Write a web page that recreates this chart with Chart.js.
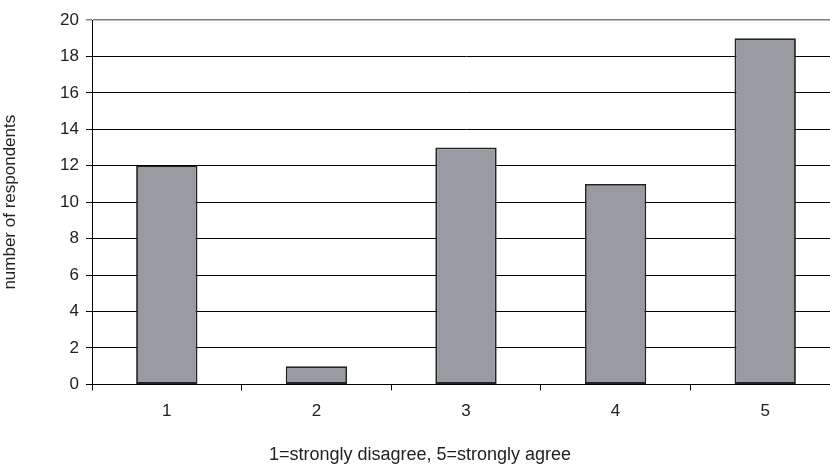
<!DOCTYPE html>
<html>
<head>
<meta charset="utf-8">
<script src="https://cdn.jsdelivr.net/npm/chart.js@4"></script>
<style>
  html, body { margin: 0; padding: 0; background: #fff; overflow: hidden; }
  #wrap { width: 844px; height: 468px; }
</style>
</head>
<body>
<div id="wrap"><canvas id="chart" width="844" height="468"></canvas></div>
<script>
// Agreement scale (1 = strongly disagree, 5 = strongly agree)
const categories = ['1', '2', '3', '4', '5'];
const respondents = [12, 1, 13, 11, 19];
const yTicks = [0, 2, 4, 6, 8, 10, 12, 14, 16, 18, 20];

const FONT = 'Liberation Sans, Arial, sans-serif';

new Chart(document.getElementById('chart'), {
  type: 'bar',
  data: {
    labels: categories,
    datasets: [{
      data: respondents,
      backgroundColor: '#989ba2',
      borderColor: '#222',
      borderWidth: 1.8,
      borderSkipped: false,
      categoryPercentage: 1.0,
      barPercentage: 0.41
    }]
  },
  options: {
    responsive: false,
    animation: false,
    events: [],
    layout: { padding: { top: 20, right: 4, left: 0, bottom: 0 } },
    plugins: {
      legend: { display: false },
      tooltip: { enabled: false },
      title: {
        display: true,
        position: 'bottom',
        text: '1=strongly disagree, 5=strongly agree',
        color: '#222',
        font: { family: FONT, size: 18, weight: 'normal' },
        padding: { top: 0, bottom: 2 }
      }
    },
    scales: {
      x: {
        offset: true,
        grid: {
          offset: true,
          drawOnChartArea: false,
          drawTicks: true,
          tickLength: 6,
          color: '#000',
          lineWidth: 1
        },
        border: { color: '#000', width: 1 },
        ticks: { color: '#222', font: { family: FONT, size: 17 }, padding: 11 },
        afterFit: s => { s.height = 60; }
      },
      y: {
        min: 0,
        max: 20,
        afterBuildTicks: s => { s.ticks = yTicks.map(v => ({ value: v })); },
        grid: {
          color: c => (c.tick && c.tick.value === 20) ? '#808080' : '#000',
          lineWidth: c => (c.tick && c.tick.value === 20) ? 1.5 : 1,
          tickLength: 6
        },
        border: { color: '#000', width: 1 },
        ticks: { color: '#222', font: { family: FONT, size: 17 }, padding: 7 },
        title: {
          display: true,
          text: 'number of respondents',
          color: '#222',
          font: { family: FONT, size: 17 },
          padding: { top: 0, bottom: 0 }
        },
        afterFit: s => { s.width = 92; }
      }
    }
  }
});
</script>
</body>
</html>
